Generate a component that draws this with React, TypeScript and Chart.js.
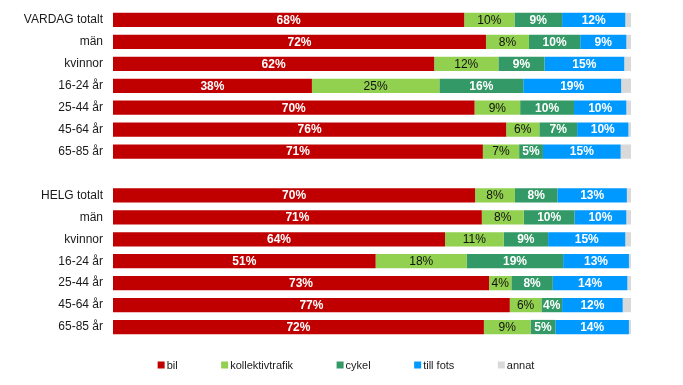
import React, { useEffect, useRef } from "react";
import { Chart, registerables } from "chart.js";

Chart.register(...registerables);

const categories = [
  "VARDAG totalt", "män", "kvinnor", "16-24 år", "25-44 år", "45-64 år", "65-85 år",
  "",
  "HELG totalt", "män", "kvinnor", "16-24 år", "25-44 år", "45-64 år", "65-85 år",
];

const bil = [67.8, 72.0, 62.0, 38.4, 69.8, 75.9, 71.4, null, 69.9, 71.2, 64.1, 50.7, 72.6, 76.6, 71.6];
const kollektivtrafik = [9.7, 8.3, 12.4, 24.6, 8.8, 6.4, 7.0, null, 7.7, 8.1, 11.3, 17.6, 4.3, 6.1, 9.0];
const cykel = [9.2, 9.9, 8.9, 16.2, 10.4, 7.3, 4.6, null, 8.2, 9.8, 8.6, 18.6, 8.0, 4.0, 4.8];
const tillFots = [12.2, 8.9, 15.4, 18.9, 10.1, 9.9, 15.0, null, 13.4, 10.0, 14.9, 12.7, 14.4, 11.7, 14.2];
const annat = [1.1, 0.9, 1.3, 1.9, 0.9, 0.5, 2.0, null, 0.8, 0.9, 1.1, 0.4, 0.7, 1.6, 0.4];

const seriesNames = ["bil", "kollektivtrafik", "cykel", "till fots", "annat"];
const seriesColors = ["#C00000", "#92D050", "#339966", "#0099FF", "#D9D9D9"];
const labelColors = ["#ffffff", "#111111", "#ffffff", "#ffffff", null];
const labelWeights = ["bold", "normal", "bold", "bold", "normal"];

const FONT = "'Liberation Sans', Arial, sans-serif";

const valueLabels = {
  id: "valueLabels",
  afterDatasetsDraw(chart: any) {
    const ctx = chart.ctx;
    ctx.save();
    ctx.textAlign = "center";
    ctx.textBaseline = "middle";
    chart.data.datasets.forEach((ds: any, di: number) => {
      const color = labelColors[di];
      if (!color) return;
      const meta = chart.getDatasetMeta(di);
      ctx.fillStyle = color;
      ctx.font = `${labelWeights[di]} 12px ${FONT}`;
      meta.data.forEach((bar: any, i: number) => {
        const v = ds.data[i];
        if (v == null) return;
        const cx = (bar.x + bar.base) / 2;
        ctx.fillText(Math.round(v) + "%", cx, bar.y + 0.5);
      });
    });
    ctx.restore();
  },
};

const bottomLegend = {
  id: "bottomLegend",
  afterDraw(chart: any) {
    const ctx = chart.ctx;
    const box = 7;
    const gapText = 2;
    const gapItem = 43.5;
    ctx.save();
    ctx.font = `11px ${FONT}`;
    ctx.textBaseline = "middle";
    ctx.textAlign = "left";
    const widths = seriesNames.map((n) => ctx.measureText(n).width);
    const total = widths.reduce((a, w) => a + box + gapText + w, 0) + gapItem * (seriesNames.length - 1);
    let x = chart.width / 2 + 4.5 - total / 2;
    const y = chart.chartArea.bottom + 27;
    seriesNames.forEach((n, i) => {
      ctx.fillStyle = seriesColors[i];
      ctx.fillRect(x, y - box / 2, box, box);
      ctx.fillStyle = "#1a1a1a";
      ctx.fillText(n, x + box + gapText, y + 0.5);
      x += box + gapText + widths[i] + gapItem;
    });
    ctx.restore();
  },
};

export default function App() {
  const ref = useRef<HTMLCanvasElement>(null);
  useEffect(() => {
    if (!ref.current) return;
    const seriesData = [bil, kollektivtrafik, cykel, tillFots, annat];
    const chart = new Chart(ref.current, {
      type: "bar",
      data: {
        labels: categories,
        datasets: seriesNames.map((name, i) => ({
          label: name,
          data: seriesData[i],
          backgroundColor: seriesColors[i],
          borderWidth: 0,
          categoryPercentage: 1,
          barPercentage: 0.65,
        })),
      },
      options: {
        indexAxis: "y",
        animation: false,
        responsive: true,
        maintainAspectRatio: false,
        layout: { padding: { left: 0, right: 44, top: 1, bottom: 39 } },
        scales: {
          x: { stacked: true, min: 0, max: 100, display: false },
          y: {
            stacked: true,
            grid: { display: false, drawTicks: true, tickLength: 10 },
            border: { display: false },
            ticks: { color: "#1a1a1a", font: { family: FONT, size: 12 }, padding: 0, autoSkip: false },
            afterFit(scale: any) {
              scale.width = 105;
              scale.paddingTop = 0;
              scale.paddingBottom = 0;
            },
          },
        },
        plugins: {
          legend: { display: false },
          tooltip: { enabled: false },
        },
      },
      plugins: [valueLabels, bottomLegend],
    });
    return () => chart.destroy();
  }, []);
  return (
    <div style={{ width: 667, height: 369, position: "relative" }}>
      <canvas ref={ref} />
    </div>
  );
}
